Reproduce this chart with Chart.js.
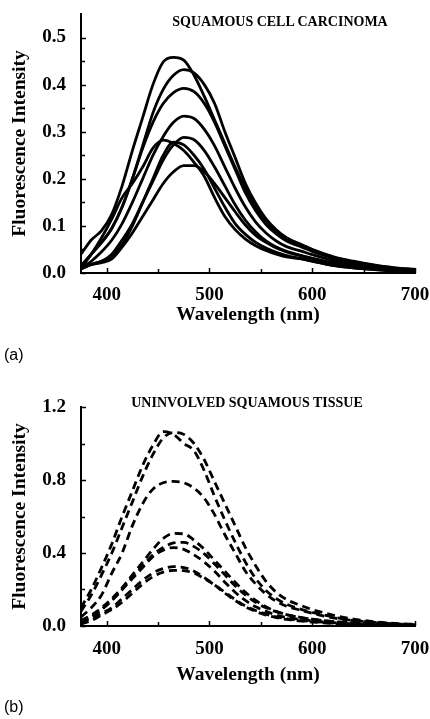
<!DOCTYPE html>
<html>
<head>
<meta charset="utf-8">
<script src="https://cdn.jsdelivr.net/npm/chart.js@4/dist/chart.umd.min.js"></script>
<style>
  html, body { margin: 0; padding: 0; background: #fff; }
  body { width: 430px; height: 719px; position: relative; overflow: hidden; }
  canvas { position: absolute; left: 0; }
  #ca { top: 0; }
  #cb { top: 340px; }
  .ttl { position: absolute; font-family: "Liberation Serif", "Times New Roman", serif; font-weight: bold; font-size: 14px; color: #000; white-space: nowrap; transform: translate(-50%, -50%); }
  .lab { position: absolute; font-family: "Liberation Sans", Arial, sans-serif; font-size: 16px; color: #000; white-space: nowrap; }
</style>
</head>
<body>
<canvas id="ca" width="430" height="330"></canvas>
<canvas id="cb" width="430" height="350"></canvas>
<div class="ttl" style="left:280px; top:22px;">SQUAMOUS CELL CARCINOMA</div>
<div class="ttl" style="left:247px; top:403px;">UNINVOLVED SQUAMOUS TISSUE</div>
<div class="lab" style="left:4px; top:346px;">(a)</div>
<div class="lab" style="left:4px; top:698px;">(b)</div>
<script>
// ---------- data ----------
const wavelengths = [375,385,395,405,415,425,435,445,455,465,475,485,495,505,515,525,535,545,555,565,575,590,600,620,640,660,680,700];

// (a) squamous cell carcinoma spectra
const scc1 = [0.04,0.07,0.09,0.125,0.185,0.26,0.33,0.40,0.448,0.458,0.452,0.42,0.375,0.325,0.275,0.225,0.18,0.14,0.11,0.088,0.072,0.058,0.05,0.035,0.025,0.017,0.011,0.008];
const scc2 = [0.015,0.04,0.065,0.095,0.14,0.20,0.27,0.34,0.39,0.42,0.432,0.425,0.40,0.36,0.30,0.245,0.19,0.148,0.115,0.092,0.075,0.06,0.05,0.034,0.024,0.016,0.011,0.007];
const scc3 = [0.015,0.04,0.065,0.095,0.14,0.20,0.265,0.32,0.36,0.383,0.392,0.385,0.36,0.32,0.27,0.22,0.17,0.132,0.103,0.083,0.068,0.055,0.046,0.032,0.022,0.015,0.01,0.007];
const scc4 = [0.01,0.025,0.045,0.07,0.105,0.15,0.20,0.25,0.29,0.32,0.333,0.328,0.305,0.27,0.225,0.18,0.14,0.108,0.085,0.068,0.056,0.046,0.039,0.027,0.018,0.012,0.008,0.006];
const scc5 = [0.008,0.018,0.025,0.04,0.07,0.105,0.15,0.195,0.24,0.272,0.288,0.283,0.26,0.225,0.185,0.145,0.112,0.087,0.068,0.055,0.046,0.037,0.031,0.021,0.015,0.01,0.007,0.005];
const scc6 = [0.01,0.04,0.075,0.115,0.16,0.19,0.225,0.265,0.282,0.275,0.26,0.235,0.205,0.16,0.12,0.092,0.072,0.058,0.048,0.04,0.034,0.03,0.025,0.016,0.011,0.007,0.004,0.003];
const scc7 = [0.01,0.018,0.025,0.035,0.06,0.10,0.15,0.20,0.25,0.278,0.272,0.25,0.22,0.18,0.14,0.105,0.082,0.065,0.053,0.044,0.037,0.03,0.025,0.016,0.011,0.008,0.005,0.004];
const scc8 = [0.01,0.018,0.022,0.03,0.055,0.085,0.12,0.155,0.19,0.215,0.228,0.228,0.215,0.19,0.16,0.13,0.102,0.08,0.065,0.053,0.045,0.036,0.031,0.022,0.016,0.011,0.007,0.005];

// (b) uninvolved squamous tissue spectra
const unv1 = [0.10,0.20,0.32,0.45,0.60,0.74,0.88,0.99,1.065,1.05,1.0,0.96,0.85,0.71,0.58,0.46,0.35,0.26,0.195,0.15,0.12,0.09,0.075,0.05,0.03,0.02,0.012,0.008];
const unv2 = [0.08,0.17,0.28,0.40,0.54,0.68,0.82,0.94,1.03,1.06,1.05,1.0,0.91,0.79,0.67,0.55,0.43,0.33,0.245,0.185,0.145,0.11,0.09,0.06,0.038,0.024,0.014,0.009];
const unv3 = [0.05,0.10,0.17,0.29,0.40,0.55,0.67,0.75,0.785,0.792,0.785,0.755,0.70,0.61,0.50,0.40,0.30,0.23,0.175,0.135,0.108,0.085,0.07,0.045,0.03,0.02,0.012,0.008];
const unv4 = [0.03,0.06,0.10,0.15,0.21,0.28,0.35,0.42,0.48,0.507,0.505,0.47,0.42,0.36,0.30,0.24,0.185,0.14,0.105,0.08,0.062,0.045,0.037,0.025,0.017,0.011,0.007,0.005];
const unv5 = [0.025,0.05,0.09,0.14,0.20,0.27,0.33,0.39,0.43,0.455,0.458,0.435,0.395,0.34,0.28,0.22,0.17,0.13,0.10,0.078,0.062,0.046,0.037,0.024,0.016,0.01,0.006,0.004];
const unv6 = [0.02,0.05,0.09,0.14,0.20,0.26,0.32,0.38,0.415,0.43,0.42,0.39,0.35,0.30,0.24,0.185,0.14,0.105,0.08,0.06,0.047,0.035,0.028,0.018,0.012,0.008,0.005,0.003];
const unv7 = [0.02,0.04,0.07,0.10,0.15,0.20,0.25,0.29,0.315,0.325,0.32,0.30,0.265,0.225,0.18,0.14,0.105,0.08,0.06,0.046,0.036,0.027,0.022,0.014,0.009,0.006,0.004,0.003];
const unv8 = [0.01,0.03,0.06,0.09,0.13,0.18,0.23,0.27,0.295,0.305,0.303,0.29,0.26,0.225,0.185,0.145,0.11,0.085,0.065,0.05,0.04,0.03,0.025,0.016,0.011,0.007,0.005,0.003];

// tick values
const xMajorTicks = [400,500,600,700];
const xMinorTicks = [450,550,650];
const yMajorTicksA = [0,0.1,0.2,0.3,0.4,0.5];
const yMinorTicksA = [0.05,0.15,0.25,0.35,0.45];
const yMajorTicksB = [0,0.4,0.8,1.2];
const yMinorTicksB = [0.2,0.6,1.0];

// ---------- helpers ----------
const serif = '"Liberation Serif", "Times New Roman", serif';
const toPts = arr => arr.map((v, i) => ({ x: wavelengths[i], y: v }));

const innerTicks = {
  id: 'innerTicks',
  afterDraw(chart, args, opts) {
    const { ctx, chartArea: ca, scales: { x, y } } = chart;
    ctx.save();
    ctx.strokeStyle = '#000';
    ctx.lineWidth = 1.5;
    ctx.beginPath();
    const xt = (vals, len) => vals.forEach(v => { const px = Math.round(x.getPixelForValue(v)) + 0.5; ctx.moveTo(px, ca.bottom); ctx.lineTo(px, ca.bottom - len); });
    const yt = (vals, len) => vals.forEach(v => { const py = Math.round(y.getPixelForValue(v)) + 0.5; ctx.moveTo(ca.left, py); ctx.lineTo(ca.left + len, py); });
    xt(xMajorTicks, 5); xt(xMinorTicks, 4);
    yt(opts.yMajor, 5); yt(opts.yMinor, 4);
    ctx.stroke();
    ctx.restore();
  }
};

function makeChart(id, series, yMax, yMajor, yMinor, dash, canvasH, plotTop, plotBottom, xPad) {
  const datasets = series.map(s => ({
    data: toPts(s),
    borderColor: '#000',
    borderWidth: 2.8,
    borderDash: dash,
    pointRadius: 0,
    fill: false,
    cubicInterpolationMode: 'monotone'
  }));
  return new Chart(document.getElementById(id), {
    type: 'line',
    data: { datasets },
    plugins: [innerTicks],
    options: {
      responsive: false,
      devicePixelRatio: 1,
      animation: false,
      events: [],
      layout: { padding: { left: 0, right: 15, top: plotTop, bottom: 0 } },
      plugins: { legend: { display: false }, tooltip: { enabled: false }, innerTicks: { yMajor, yMinor } },
      scales: {
        x: {
          type: 'linear', min: 375, max: 700,
          afterBuildTicks: s => { s.ticks = xMajorTicks.map(v => ({ value: v })); },
          afterFit: s => { s.height = canvasH - plotBottom; s.paddingLeft = 0; s.paddingRight = 0; },
          grid: { display: false },
          border: { display: true, color: '#000', width: 2 },
          ticks: { color: '#000', padding: xPad, font: { family: serif, size: 19, weight: 'bold' }, callback: v => String(v) },
          title: { display: true, text: 'Wavelength (nm)', color: '#000', padding: { top: 0, bottom: 3 }, font: { family: serif, size: 19.5, weight: 'bold' } }
        },
        y: {
          type: 'linear', min: 0, max: yMax,
          afterBuildTicks: s => { s.ticks = yMajor.map(v => ({ value: v })); },
          afterFit: s => { s.width = 81; s.paddingTop = 0; s.paddingBottom = 0; },
          grid: { display: false },
          border: { display: true, color: '#000', width: 2 },
          ticks: { color: '#000', padding: 7, font: { family: serif, size: 19, weight: 'bold' }, callback: v => Number(v).toFixed(1) },
          title: { display: true, text: 'Fluorescence Intensity', color: '#000', padding: { top: 8, bottom: 0 }, font: { family: serif, size: 19.5, weight: 'bold' } }
        }
      }
    }
  });
}

makeChart('ca', [scc1, scc2, scc3, scc4, scc5, scc6, scc7, scc8], 0.55, yMajorTicksA, yMinorTicksA, [], 330, 14, 273, 3);
makeChart('cb', [unv1, unv2, unv3, unv4, unv5, unv6, unv7, unv8], 1.2, yMajorTicksB, yMinorTicksB, [8, 5], 350, 67, 286, 4);
</script>
</body>
</html>
